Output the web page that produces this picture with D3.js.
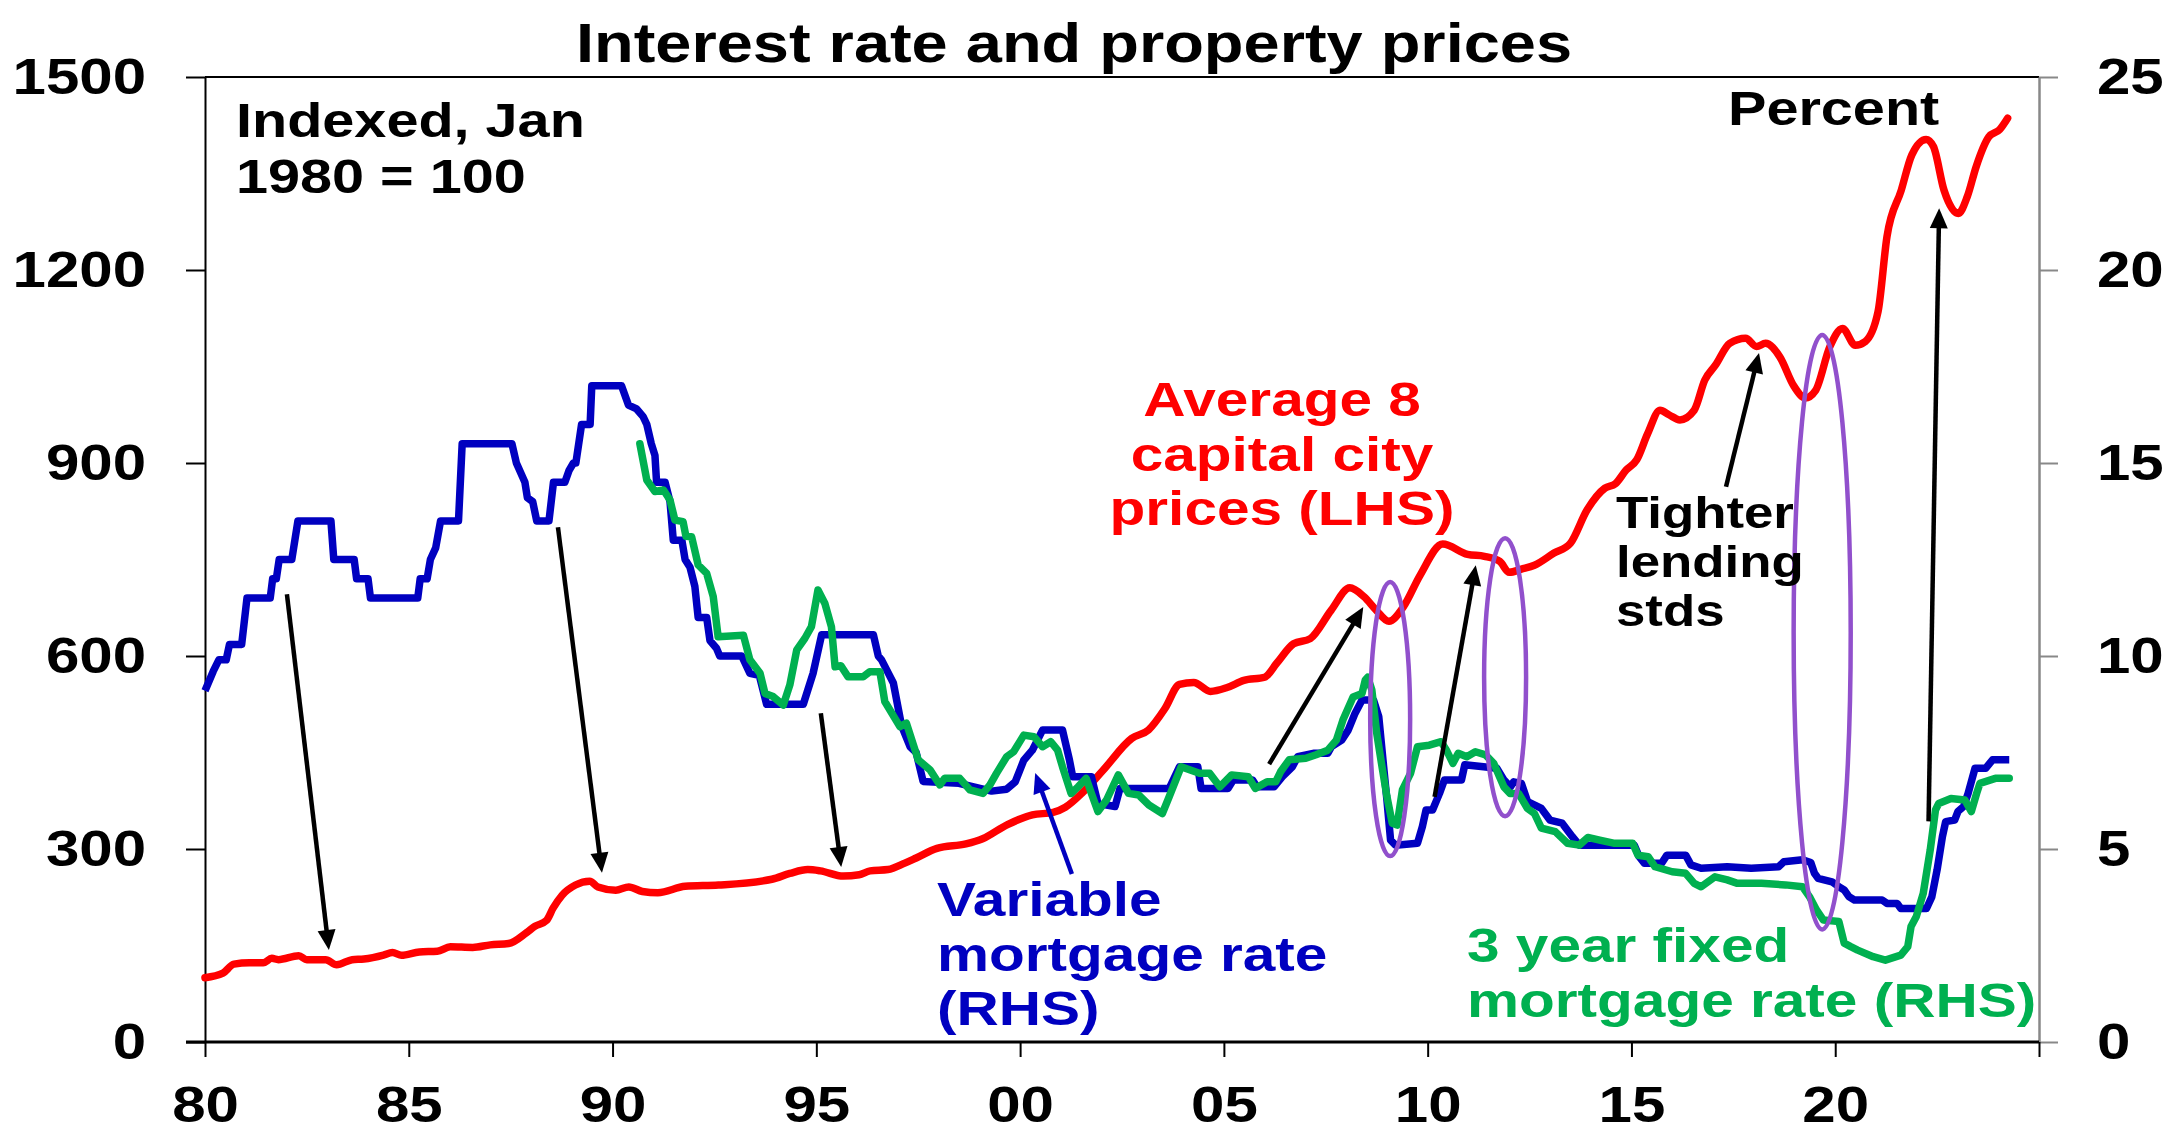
<!DOCTYPE html>
<html><head><meta charset="utf-8">
<script src="https://cdn.jsdelivr.net/npm/d3@7"></script>
<style>body{margin:0;background:#fff} svg{display:block}</style>
</head><body><svg id="c" width="2173" height="1144"></svg>
<script>
// ---------------- DATA ----------------
const priceYears = [1980.0,1980.44,1980.71,1981.09,1981.43,1981.64,1981.8,1982.3,1982.5,1982.96,1983.23,1983.61,1983.9,1984.38,1984.6,1984.82,1985.26,1985.7,1986.02,1986.57,1987.0,1987.45,1987.89,1988.1,1988.38,1988.54,1988.76,1989.09,1989.44,1989.64,1990.08,1990.4,1990.73,1991.11,1991.78,1992.6,1993.91,1994.35,1994.79,1995.1,1995.66,1996.05,1996.32,1996.76,1997.17,1997.45,1997.96,1998.67,1999.08,1999.69,2000.3,2000.81,2001.11,2001.52,2002.03,2002.74,2003.15,2003.55,2003.91,2004.26,2004.67,2005.08,2005.49,2006.0,2006.3,2006.71,2007.12,2007.63,2008.09,2008.44,2008.74,2009.05,2009.4,2009.81,2010.37,2010.98,2011.39,2011.77,2012.0,2012.3,2012.62,2013.1,2013.5,2013.91,2014.35,2014.61,2014.87,2015.13,2015.4,2015.7,2015.92,2016.19,2016.54,2016.8,2017.06,2017.41,2017.8,2018.07,2018.29,2018.64,2018.99,2019.26,2019.52,2019.87,2020.18,2020.49,2020.74,2021.05,2021.27,2021.62,2021.88,2022.23,2022.41,2022.67,2023.02,2023.24,2023.46,2023.77,2024.03,2024.23];
const priceIndex = [100,107,121,123,123,130,128,134,128,128,120,128,129,135,139,135,140,141,148,147,151,153,170,180,189,208,228,244,250,241,236,241,234,232,242,244,253,262,268,266,258,260,266,268,278,286,301,308,316,338,353,357,365,387,422,472,485,518,556,559,545,551,562,567,589,619,627,671,706,692,671,654,676,725,774,758,755,747,730,735,741,760,775,827,861,868,889,905,946,982,975,967,982,1029,1052,1086,1094,1081,1086,1065,1019,1001,1013,1081,1109,1083,1089,1135,1252,1324,1379,1403,1392,1324,1288,1314,1361,1407,1418,1436];

const variableYears = [1980.0,1980.2,1980.34,1980.52,1980.6,1980.9,1981.03,1981.6,1981.66,1981.75,1981.82,1982.13,1982.28,1983.09,1983.16,1983.66,1983.72,1984.0,1984.06,1985.22,1985.28,1985.45,1985.53,1985.66,1985.78,1986.22,1986.31,1987.53,1987.64,1987.85,1987.91,1988.04,1988.14,1988.44,1988.55,1988.83,1988.93,1989.04,1989.1,1989.24,1989.45,1989.49,1990.22,1990.39,1990.59,1990.75,1990.84,1990.95,1991.04,1991.08,1991.29,1991.41,1991.49,1991.7,1991.78,1991.9,1992.02,1992.1,1992.31,1992.39,1992.55,1992.63,1993.17,1993.37,1993.6,1993.78,1994.68,1994.92,1995.13,1996.4,1996.52,1996.6,1996.89,1997.09,1997.3,1997.45,1997.62,1998.5,1999.3,1999.67,1999.88,2000.09,2000.3,2000.55,2001.04,2001.21,2001.29,2001.75,2001.91,2002.33,2002.45,2003.66,2003.91,2004.36,2004.44,2005.1,2005.23,2005.7,2005.81,2006.23,2006.43,2006.68,2006.81,2007.22,2007.55,2007.64,2007.89,2008.05,2008.22,2008.39,2008.67,2008.8,2008.92,2009.0,2009.09,2009.21,2009.75,2009.87,2009.96,2010.12,2010.29,2010.41,2010.83,2010.91,2011.37,2011.7,2011.87,2012.03,2012.11,2012.3,2012.45,2012.79,2013.0,2013.3,2013.55,2013.72,2015.07,2015.19,2015.32,2015.74,2015.87,2016.33,2016.46,2016.71,2017.35,2017.94,2018.61,2018.74,2019.2,2019.4,2019.49,2019.58,2019.92,2020.09,2020.22,2020.34,2020.47,2021.15,2021.27,2021.52,2021.61,2022.24,2022.37,2022.5,2022.63,2022.71,2022.93,2023.01,2023.15,2023.26,2023.43,2023.69,2023.86,2024.27];
const variableRate = [9.1,9.6,9.9,9.9,10.3,10.3,11.5,11.5,12.0,12.0,12.5,12.5,13.5,13.5,12.5,12.5,12.0,12.0,11.5,11.5,12.0,12.0,12.5,12.8,13.5,13.5,15.5,15.5,15.0,14.5,14.1,14.0,13.5,13.5,14.5,14.5,14.8,15.0,15.0,16.0,16.0,17.0,17.0,16.5,16.4,16.2,16.0,15.5,15.2,14.5,14.5,14.0,13.0,13.0,12.5,12.3,11.8,11.0,11.0,10.4,10.2,10.0,10.0,9.55,9.5,8.75,8.75,9.55,10.55,10.55,10.0,9.9,9.3,8.2,7.65,7.5,6.75,6.7,6.5,6.55,6.74,7.3,7.56,8.08,8.08,7.31,6.87,6.87,6.18,6.1,6.57,6.57,7.13,7.13,6.57,6.57,6.79,6.79,6.61,6.61,6.87,7.13,7.39,7.48,7.48,7.65,7.82,8.08,8.52,8.86,8.86,8.43,7.13,6.27,5.23,5.1,5.15,5.58,6.01,6.01,6.44,6.79,6.79,7.18,7.13,7.09,6.79,6.61,6.74,6.7,6.23,6.05,5.75,5.67,5.32,5.1,5.1,4.8,4.63,4.63,4.84,4.84,4.59,4.5,4.54,4.5,4.54,4.67,4.72,4.65,4.37,4.24,4.15,4.02,3.94,3.76,3.68,3.68,3.59,3.59,3.46,3.46,3.76,4.46,5.32,5.71,5.75,5.97,6.1,6.44,7.09,7.09,7.31,7.31];

const fixedYears = [1990.67,1990.84,1991.04,1991.25,1991.41,1991.53,1991.73,1991.8,1991.94,1992.1,1992.31,1992.47,1992.59,1993.21,1993.37,1993.62,1993.74,1993.94,1994.19,1994.35,1994.52,1994.72,1994.88,1995.04,1995.21,1995.37,1995.46,1995.6,1995.78,1996.15,1996.31,1996.56,1996.68,1997.05,1997.21,1997.5,1997.79,1998.03,1998.15,1998.52,1998.77,1999.09,1999.26,1999.42,1999.67,1999.84,2000.09,2000.34,2000.55,2000.75,2000.92,2001.04,2001.25,2001.42,2001.62,2001.75,2001.91,2002.12,2002.41,2002.66,2002.91,2003.16,2003.49,2003.66,2003.95,2004.4,2004.65,2004.9,2005.19,2005.6,2005.77,2006.06,2006.27,2006.39,2006.6,2007.01,2007.26,2007.55,2007.76,2007.92,2008.17,2008.39,2008.47,2008.53,2008.63,2008.75,2008.88,2009.0,2009.13,2009.25,2009.38,2009.58,2009.75,2010.04,2010.33,2010.46,2010.62,2010.75,2010.96,2011.17,2011.42,2011.62,2011.87,2012.02,2012.23,2012.45,2012.62,2012.79,2013.13,2013.43,2013.72,2013.93,2014.22,2014.56,2015.03,2015.16,2015.41,2015.58,2016.0,2016.33,2016.54,2016.71,2017.05,2017.35,2017.6,2018.19,2018.78,2019.2,2019.37,2019.54,2019.71,2020.09,2020.22,2020.38,2020.55,2020.93,2021.23,2021.61,2021.78,2021.86,2021.99,2022.16,2022.33,2022.46,2022.54,2022.84,2023.18,2023.34,2023.47,2023.55,2023.93,2024.27];
const fixedRate = [15.5,14.56,14.26,14.3,14.04,13.52,13.48,13.1,13.09,12.36,12.14,11.54,10.5,10.54,9.9,9.55,9.03,8.95,8.73,9.25,10.16,10.46,10.76,11.71,11.36,10.76,9.72,9.75,9.46,9.46,9.59,9.59,8.82,8.17,8.26,7.31,7.05,6.66,6.83,6.83,6.53,6.44,6.66,6.96,7.39,7.52,7.95,7.91,7.65,7.78,7.56,7.13,6.44,6.61,6.83,6.44,5.97,6.27,6.92,6.44,6.4,6.14,5.92,6.36,7.13,6.96,6.96,6.61,6.92,6.87,6.57,6.74,6.74,7.0,7.31,7.35,7.44,7.56,7.82,8.34,8.94,9.03,9.38,9.45,9.12,8.0,7.13,6.36,5.67,5.62,6.53,6.96,7.65,7.69,7.78,7.56,7.22,7.48,7.39,7.52,7.44,7.22,6.61,6.44,6.44,6.05,5.92,5.54,5.45,5.15,5.1,5.3,5.23,5.15,5.15,4.84,4.8,4.54,4.41,4.37,4.11,4.02,4.28,4.2,4.11,4.11,4.07,4.02,3.76,3.42,3.16,3.12,2.56,2.47,2.38,2.21,2.12,2.25,2.47,2.99,3.25,3.85,4.97,6.01,6.18,6.31,6.27,5.97,6.44,6.7,6.83,6.83];

const xTickYears = [1980,1985,1990,1995,2000,2005,2010,2015,2020,2025];
const xTickLabels = ["80","85","90","95","00","05","10","15","20",""];
const leftTicks = [0,300,600,900,1200,1500];
const rightTicks = [0,5,10,15,20,25];

// annotations in data units (year, left-axis index)
const arrowsData = [
  {x1:1982.01,y1:696,x2:1983.04,y2:143,c:"#000"},
  {x1:1988.66,y1:800,x2:1989.74,y2:263,c:"#000"},
  {x1:1995.11,y1:511,x2:1995.61,y2:272,c:"#000"},
  {x1:2006.11,y1:432,x2:2008.42,y2:676,c:"#000"},
  {x1:2010.17,y1:381,x2:2011.18,y2:741,c:"#000"},
  {x1:2017.32,y1:863,x2:2018.13,y2:1071,c:"#000"},
  {x1:2022.29,y1:343,x2:2022.55,y2:1296,c:"#000"},
  {x1:2001.27,y1:261,x2:2000.37,y2:418,c:"#0000C0"}
];
const ellipsesData = [
  {cx:2009.08,cy:502,rx:0.49,ry:213},
  {cx:2011.9,cy:567,rx:0.515,ry:216},
  {cx:2019.68,cy:637,rx:0.70,ry:462}
];

// ---------------- LAYOUT ----------------
const L=205, R=2039, T=77, B=1042;
const SX=1.2;
const FONT="'Liberation Sans', Arial, Helvetica, sans-serif";
const RED="#FF0000", BLUE="#0000C0", GREEN="#00B050", PURPLE="#9150CC";
const LW=7.5;

const svg=d3.select("#c");
svg.append("rect").attr("width",2173).attr("height",1144).attr("fill","#fff");

const x=d3.scaleLinear().domain([1980,2025]).range([L,R]);
const yL=d3.scaleLinear().domain([0,1500]).range([B,T]);
const yR=d3.scaleLinear().domain([0,25]).range([B,T]);
const sxLen = yrs => x(1980+yrs)-x(1980);
const syLen = v => yL(0)-yL(v);

function stretchText(sel){
  sel.each(function(){
    const t=d3.select(this);
    const tx=+t.attr("x")||0;
    t.attr("x",tx/SX).attr("transform",`scale(${SX},1)`);
  });
}

// top border
svg.append("line").attr("x1",L).attr("x2",R).attr("y1",T).attr("y2",T)
  .attr("stroke","#000").attr("stroke-width",2);

// left axis
const gl=svg.append("g").attr("transform",`translate(${L},0)`)
  .call(d3.axisLeft(yL).tickValues(leftTicks).tickSize(19).tickSizeOuter(0).tickPadding(40).tickFormat(d=>d));
gl.select(".domain").attr("stroke","#000").attr("stroke-width",2);
gl.selectAll(".tick line").attr("stroke","#000").attr("stroke-width",2);
gl.selectAll(".tick text").attr("font-family",FONT).attr("font-weight","bold")
  .attr("font-size",50).attr("fill","#000").call(stretchText);

// right axis
const gr=svg.append("g").attr("transform",`translate(${R},0)`)
  .call(d3.axisRight(yR).tickValues(rightTicks).tickSize(19).tickSizeOuter(0).tickPadding(39).tickFormat(d=>d));
gr.select(".domain").attr("stroke","#888").attr("stroke-width",2.5);
gr.selectAll(".tick line").attr("stroke","#888").attr("stroke-width",2);
gr.selectAll(".tick text").attr("font-family",FONT).attr("font-weight","bold")
  .attr("font-size",50).attr("fill","#000").call(stretchText);

// bottom axis
const gb=svg.append("g").attr("transform",`translate(0,${B})`)
  .call(d3.axisBottom(x).tickValues(xTickYears).tickSize(15).tickSizeOuter(0)
    .tickFormat((d,i)=>xTickLabels[i]));
gb.select(".domain").attr("stroke","#000").attr("stroke-width",3)
  .attr("d",`M${L-19},0H${R}`);
gb.selectAll(".tick line").attr("stroke","#000").attr("stroke-width",2);
gb.selectAll(".tick text").attr("font-family",FONT).attr("font-weight","bold")
  .attr("font-size",50).attr("fill","#000").attr("y",80).attr("dy",0).call(stretchText);

// lines
const lineL=d3.line().x(d=>x(d[0])).y(d=>yL(d[1])).curve(d3.curveMonotoneX);
const lineR=d3.line().x(d=>x(d[0])).y(d=>yR(d[1]));
const priceData=priceYears.map((t,i)=>[t,priceIndex[i]]);
const varData=variableYears.map((t,i)=>[t,variableRate[i]]);
const fixData=fixedYears.map((t,i)=>[t,fixedRate[i]]);

svg.append("path").datum(priceData).attr("d",lineL).attr("fill","none")
  .attr("stroke",RED).attr("stroke-width",LW).attr("stroke-linejoin","round").attr("stroke-linecap","round");
svg.append("path").datum(varData).attr("d",lineR).attr("fill","none")
  .attr("stroke",BLUE).attr("stroke-width",LW).attr("stroke-linejoin","round");
svg.append("path").datum(fixData).attr("d",lineR).attr("fill","none")
  .attr("stroke",GREEN).attr("stroke-width",LW).attr("stroke-linejoin","round").attr("stroke-linecap","round");

// ellipses
svg.selectAll("ellipse.hl").data(ellipsesData).join("ellipse").attr("class","hl")
  .attr("cx",d=>x(d.cx)).attr("cy",d=>yL(d.cy)).attr("rx",d=>sxLen(d.rx)).attr("ry",d=>syLen(d.ry))
  .attr("fill","none").attr("stroke",PURPLE).attr("stroke-width",4.5);

// arrows
arrowsData.forEach(a=>{
  const X1=x(a.x1),Y1=yL(a.y1),X2=x(a.x2),Y2=yL(a.y2);
  const dx=X2-X1,dy=Y2-Y1,len=Math.hypot(dx,dy),ux=dx/len,uy=dy/len;
  const hl=20,hw=9;
  const bx=X2-ux*hl,by=Y2-uy*hl;
  svg.append("line").attr("x1",X1).attr("y1",Y1).attr("x2",bx+ux*2).attr("y2",by+uy*2)
    .attr("stroke",a.c).attr("stroke-width",4.5);
  svg.append("path").attr("d",`M${X2},${Y2}L${bx-uy*hw},${by+ux*hw}L${bx+uy*hw},${by-ux*hw}Z`)
    .attr("fill",a.c);
});

// texts
function label(lines,x0,y0,dy,size,color,anchor,sx){
  lines.forEach((s,i)=>{
    svg.append("text").attr("transform",`translate(${x0},${y0+i*dy}) scale(${sx||SX},1)`)
      .attr("font-family",FONT).attr("font-weight","bold").attr("font-size",size)
      .attr("fill",color).attr("text-anchor",anchor).text(s);
  });
}
label(["Interest rate and property prices"],1074,62,0,56,"#000","middle",1.16);
label(["Indexed, Jan","1980 = 100"],236,137,56,48,"#000","start");
label(["Percent"],1728,125,0,48,"#000","start");
label(["Average 8","capital city","prices (LHS)"],1282,416,54.5,48,RED,"middle",1.22);
label(["Variable","mortgage rate","(RHS)"],937,916,54.5,48,BLUE,"start",1.22);
label(["3 year fixed","mortgage rate (RHS)"],1467,962,55,48,GREEN,"start",1.22);
label(["Tighter","lending","stds"],1616,528,49,44,"#000","start",1.2);
</script></body></html>
